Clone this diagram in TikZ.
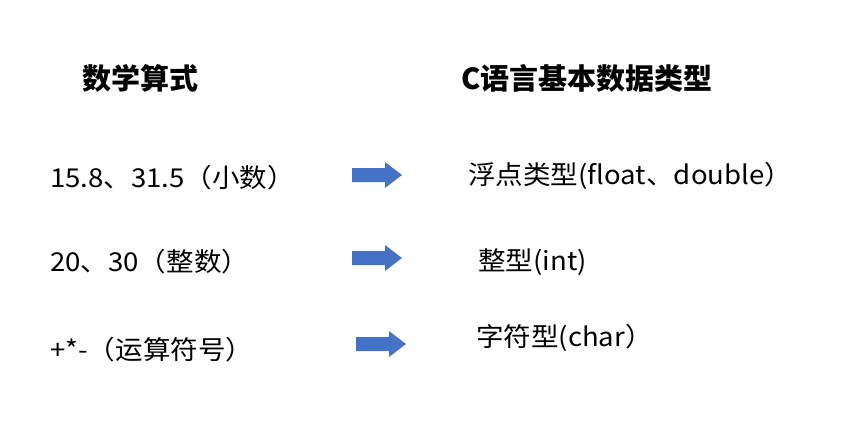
\documentclass[tikz,border=0pt]{standalone}
\usepackage{fontspec}
\setmainfont{Noto Sans CJK SC}
\newfontfamily\bodyfont{Noto Sans CJK SC}[FakeStretch=1.06]
\definecolor{arrblue}{HTML}{4472C4}
\tikzset{
  txt/.style={anchor=west,inner sep=0pt,font=\bodyfont\fontsize{26}{30}\selectfont},
  head/.style={anchor=west,inner sep=0pt,font=\fontsize{29}{33}\selectfont\bfseries},
  barrow/.pic={\fill[arrblue] (-25,-7) -- (8,-7) -- (8,-13) -- (25,0) -- (8,13) -- (8,7) -- (-25,7) -- cycle;}
}
\begin{document}
\begin{tikzpicture}[x=1pt,y=-1pt]
\useasboundingbox (0,0) rectangle (843,423);
\node[head] (h1) at (82,78) {数学算式};
\node[head] (h2) at (461,78) {C语言基本数据类型};
\node[txt] (l1) at (50,178) {15.8、31.5（小数）};
\node[txt] (l2) at (50,262) {20、30（整数）};
\node[txt] (l3) at (50,350) {+*-（运算符号）};
\node[txt] (r1) at (468,176) {浮点类型(float、double）};
\node[txt] (r2) at (478,262) {整型(int)};
\node[txt] (r3) at (476,338) {字符型(char）};
\coordinate (a1) at (377,175);
\coordinate (a2) at (377,258);
\coordinate (a3) at (381,344);
\pic at (a1) {barrow};
\pic at (a2) {barrow};
\pic at (a3) {barrow};
\end{tikzpicture}
\end{document}
